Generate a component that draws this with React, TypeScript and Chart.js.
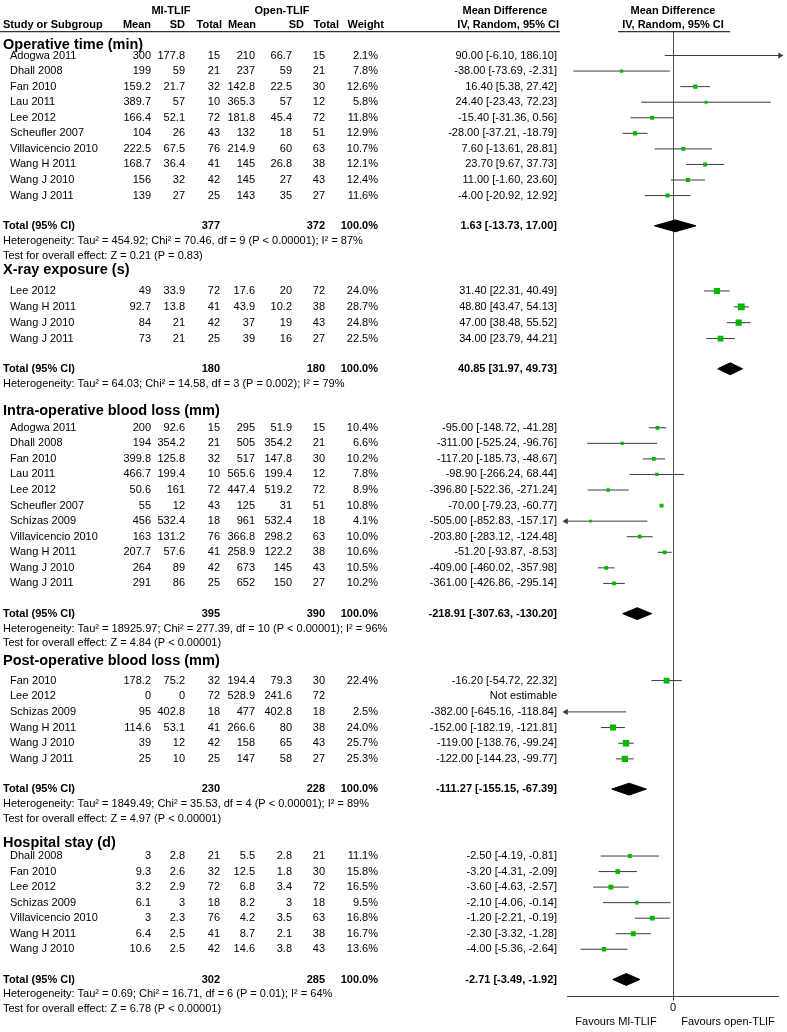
import React, { useEffect, useRef } from 'react';
import { Chart, registerables } from 'chart.js';

Chart.register(...registerables);

// ---------------- data ----------------
const subgroupNames = [
  'Operative time (min)',
  'X-ray exposure (s)',
  'Intra-operative blood loss (mm)',
  'Post-operative blood loss (mm)',
  'Hospital stay (d)',
];

// Operative time
const opStudies = ['Adogwa 2011', 'Dhall 2008', 'Fan 2010', 'Lau 2011', 'Lee 2012', 'Scheufler 2007', 'Villavicencio 2010', 'Wang H 2011', 'Wang J 2010', 'Wang J 2011'];
const opMI = [[300, 177.8, 15], [199, 59, 21], [159.2, 21.7, 32], [389.7, 57, 10], [166.4, 52.1, 72], [104, 26, 43], [222.5, 67.5, 76], [168.7, 36.4, 41], [156, 32, 42], [139, 27, 25]];
const opOpen = [[210, 66.7, 15], [237, 59, 21], [142.8, 22.5, 30], [365.3, 57, 12], [181.8, 45.4, 72], [132, 18, 51], [214.9, 60, 63], [145, 26.8, 38], [145, 27, 43], [143, 35, 27]];
const opWeight = [2.1, 7.8, 12.6, 5.8, 11.8, 12.9, 10.7, 12.1, 12.4, 11.6];
const opMD = [90, -38, 16.4, 24.4, -15.4, -28, 7.6, 23.7, 11, -4];
const opLo = [-6.1, -73.69, 5.38, -23.43, -31.36, -37.21, -13.61, 9.67, -1.6, -20.92];
const opHi = [186.1, -2.31, 27.42, 72.23, 0.56, -18.79, 28.81, 37.73, 23.6, 12.92];
const opTotal = [377, 372, 1.63, -13.73, 17.0];
const opHet = 'Heterogeneity: Tau\u00b2 = 454.92; Chi\u00b2 = 70.46, df = 9 (P < 0.00001); I\u00b2 = 87%';
const opTest = 'Test for overall effect: Z = 0.21 (P = 0.83)';

// X-ray exposure
const xrStudies = ['Lee 2012', 'Wang H 2011', 'Wang J 2010', 'Wang J 2011'];
const xrMI = [[49, 33.9, 72], [92.7, 13.8, 41], [84, 21, 42], [73, 21, 25]];
const xrOpen = [[17.6, 20, 72], [43.9, 10.2, 38], [37, 19, 43], [39, 16, 27]];
const xrWeight = [24.0, 28.7, 24.8, 22.5];
const xrMD = [31.4, 48.8, 47, 34];
const xrLo = [22.31, 43.47, 38.48, 23.79];
const xrHi = [40.49, 54.13, 55.52, 44.21];
const xrTotal = [180, 180, 40.85, 31.97, 49.73];
const xrHet = 'Heterogeneity: Tau\u00b2 = 64.03; Chi\u00b2 = 14.58, df = 3 (P = 0.002); I\u00b2 = 79%';
const xrTest = '';

// Intra-operative blood loss
const ibStudies = ['Adogwa 2011', 'Dhall 2008', 'Fan 2010', 'Lau 2011', 'Lee 2012', 'Scheufler 2007', 'Schizas 2009', 'Villavicencio 2010', 'Wang H 2011', 'Wang J 2010', 'Wang J 2011'];
const ibMI = [[200, 92.6, 15], [194, 354.2, 21], [399.8, 125.8, 32], [466.7, 199.4, 10], [50.6, 161, 72], [55, 12, 43], [456, 532.4, 18], [163, 131.2, 76], [207.7, 57.6, 41], [264, 89, 42], [291, 86, 25]];
const ibOpen = [[295, 51.9, 15], [505, 354.2, 21], [517, 147.8, 30], [565.6, 199.4, 12], [447.4, 519.2, 72], [125, 31, 51], [961, 532.4, 18], [366.8, 298.2, 63], [258.9, 122.2, 38], [673, 145, 43], [652, 150, 27]];
const ibWeight = [10.4, 6.6, 10.2, 7.8, 8.9, 10.8, 4.1, 10.0, 10.6, 10.5, 10.2];
const ibMD = [-95, -311, -117.2, -98.9, -396.8, -70, -505, -203.8, -51.2, -409, -361];
const ibLo = [-148.72, -525.24, -185.73, -266.24, -522.36, -79.23, -852.83, -283.12, -93.87, -460.02, -426.86];
const ibHi = [-41.28, -96.76, -48.67, 68.44, -271.24, -60.77, -157.17, -124.48, -8.53, -357.98, -295.14];
const ibTotal = [395, 390, -218.91, -307.63, -130.2];
const ibHet = 'Heterogeneity: Tau\u00b2 = 18925.97; Chi\u00b2 = 277.39, df = 10 (P < 0.00001); I\u00b2 = 96%';
const ibTest = 'Test for overall effect: Z = 4.84 (P < 0.00001)';

// Post-operative blood loss
const pbStudies = ['Fan 2010', 'Lee 2012', 'Schizas 2009', 'Wang H 2011', 'Wang J 2010', 'Wang J 2011'];
const pbMI = [[178.2, 75.2, 32], [0, 0, 72], [95, 402.8, 18], [114.6, 53.1, 41], [39, 12, 42], [25, 10, 25]];
const pbOpen = [[194.4, 79.3, 30], [528.9, 241.6, 72], [477, 402.8, 18], [266.6, 80, 38], [158, 65, 43], [147, 58, 27]];
const pbWeight = [22.4, null, 2.5, 24.0, 25.7, 25.3];
const pbMD = [-16.2, null, -382, -152, -119, -122];
const pbLo = [-54.72, null, -645.16, -182.19, -138.76, -144.23];
const pbHi = [22.32, null, -118.84, -121.81, -99.24, -99.77];
const pbTotal = [230, 228, -111.27, -155.15, -67.39];
const pbHet = 'Heterogeneity: Tau\u00b2 = 1849.49; Chi\u00b2 = 35.53, df = 4 (P < 0.00001); I\u00b2 = 89%';
const pbTest = 'Test for overall effect: Z = 4.97 (P < 0.00001)';

// Hospital stay
const hsStudies = ['Dhall 2008', 'Fan 2010', 'Lee 2012', 'Schizas 2009', 'Villavicencio 2010', 'Wang H 2011', 'Wang J 2010'];
const hsMI = [[3, 2.8, 21], [9.3, 2.6, 32], [3.2, 2.9, 72], [6.1, 3, 18], [3, 2.3, 76], [6.4, 2.5, 41], [10.6, 2.5, 42]];
const hsOpen = [[5.5, 2.8, 21], [12.5, 1.8, 30], [6.8, 3.4, 72], [8.2, 3, 18], [4.2, 3.5, 63], [8.7, 2.1, 38], [14.6, 3.8, 43]];
const hsWeight = [11.1, 15.8, 16.5, 9.5, 16.8, 16.7, 13.6];
const hsMD = [-2.5, -3.2, -3.6, -2.1, -1.2, -2.3, -4];
const hsLo = [-4.19, -4.31, -4.63, -4.06, -2.21, -3.32, -5.36];
const hsHi = [-0.81, -2.09, -2.57, -0.14, -0.19, -1.28, -2.64];
const hsTotal = [302, 285, -2.71, -3.49, -1.92];
const hsHet = 'Heterogeneity: Tau\u00b2 = 0.69; Chi\u00b2 = 16.71, df = 6 (P = 0.01); I\u00b2 = 64%';
const hsTest = 'Test for overall effect: Z = 6.78 (P < 0.00001)';

const xTickLabels = ['0'];
const favoursLabels = ['Favours MI-TLIF', 'Favours open-TLIF'];

// ---------------- layout / style ----------------
const W = 787;
const H = 1032;
const PLOT_LEFT = 566;
const PLOT_RIGHT = 780;
// half-range of each subgroup's own x-scale (the figure is a composite of 5 plots)
const axisHalfRange = [79, 76.5, 655, 271, 6.2];
const sectionLayout = [
  { header: 41, first: 51.5, step: 15.7 },
  { header: 268, first: 289, step: 16 },
  { header: 410, first: 427, step: 15.7 },
  { header: 662, first: 682, step: 15.8 },
  { header: 846, first: 859, step: 15.67 },
];
const TOTAL_GAP = 30.5;
const LINE_GAP = 15;
const DIAMOND_HALF = 6;
const HEADER_LINE_Y = 27.5;
const AXIS_Y = 1000;

const FONT_FAMILY = '"Liberation Sans", Arial, sans-serif';
const F_REG = `11px ${FONT_FAMILY}`;
const F_BOLD = `bold 11px ${FONT_FAMILY}`;
const F_SECTION = `bold 14.5px ${FONT_FAMILY}`;
const GREEN = '#00b800';
const CI_COLOR = '#3c3c3c';

const COL = { section: 3, name: 10, miMean: 151, miSD: 185, miN: 220, opMean: 255, opSD: 292, opN: 325, weight: 378, ci: 557 };

// ---------------- build tables ----------------
const groups = [
  { studies: opStudies, mi: opMI, open: opOpen, weight: opWeight, md: opMD, lo: opLo, hi: opHi, total: opTotal, het: opHet, test: opTest },
  { studies: xrStudies, mi: xrMI, open: xrOpen, weight: xrWeight, md: xrMD, lo: xrLo, hi: xrHi, total: xrTotal, het: xrHet, test: xrTest },
  { studies: ibStudies, mi: ibMI, open: ibOpen, weight: ibWeight, md: ibMD, lo: ibLo, hi: ibHi, total: ibTotal, het: ibHet, test: ibTest },
  { studies: pbStudies, mi: pbMI, open: pbOpen, weight: pbWeight, md: pbMD, lo: pbLo, hi: pbHi, total: pbTotal, het: pbHet, test: pbTest },
  { studies: hsStudies, mi: hsMI, open: hsOpen, weight: hsWeight, md: hsMD, lo: hsLo, hi: hsHi, total: hsTotal, het: hsHet, test: hsTest },
];

const rows = groups.map((g, gi) => {
  const L = sectionLayout[gi];
  const studyY = g.studies.map((_, i) => L.first + i * L.step);
  const totalY = studyY[studyY.length - 1] + TOTAL_GAP;
  return { headerY: L.header, studyY, totalY, hetY: totalY + LINE_GAP, testY: totalY + 2 * LINE_GAP };
});

const ciText = (m: number, l: number, h: number) => `${m.toFixed(2)} [${l.toFixed(2)}, ${h.toFixed(2)}]`;

function buildDatasets() {
  const datasets: any[] = [];
  groups.forEach((g, gi) => {
    const ax = 'x' + gi;
    const r = rows[gi];
    const h = axisHalfRange[gi];
    const ci: any[] = [];
    const sq: any[] = [];
    const radii: number[] = [];
    const arrows: any[] = [];
    const rot: number[] = [];
    g.md.forEach((m: any, i: number) => {
      if (m == null) return;
      const y = r.studyY[i];
      ci.push({ x: g.lo[i], y }, { x: g.hi[i], y }, { x: g.hi[i], y: null });
      sq.push({ x: m, y });
      radii.push((2 + 0.17 * (g.weight[i] as number)) / Math.SQRT2);
      if ((g.hi[i] as number) > h) { arrows.push({ x: h, y }); rot.push(90); }
      if ((g.lo[i] as number) < -h) { arrows.push({ x: -h, y }); rot.push(-90); }
    });
    datasets.push({
      type: 'line', xAxisID: ax, yAxisID: 'y', data: ci, borderColor: CI_COLOR, borderWidth: 1,
      pointRadius: 0, spanGaps: false, tension: 0, fill: false, order: 3,
    });
    datasets.push({
      type: 'line', xAxisID: ax, yAxisID: 'y', data: sq, showLine: false, pointStyle: 'rect',
      pointRadius: radii, pointBackgroundColor: GREEN, pointBorderColor: GREEN, pointBorderWidth: 0, order: 2,
    });
    const [, , tm, tl, th] = g.total;
    const ty = r.totalY;
    datasets.push({
      type: 'line', xAxisID: ax, yAxisID: 'y',
      data: [{ x: tl, y: ty }, { x: tm, y: ty - DIAMOND_HALF }, { x: th, y: ty }, { x: tm, y: ty + DIAMOND_HALF }, { x: tl, y: ty }],
      borderColor: '#000', backgroundColor: '#000', borderWidth: 1, pointRadius: 0, tension: 0, fill: 'shape', order: 1,
    });
    if (arrows.length) {
      datasets.push({
        type: 'line', xAxisID: ax, yAxisID: 'y', data: arrows, showLine: false, pointStyle: 'triangle',
        pointRadius: 3.5, pointRotation: rot, pointBackgroundColor: CI_COLOR, pointBorderColor: CI_COLOR,
        pointBorderWidth: 0, clip: false, order: 1,
      });
    }
  });
  return datasets;
}

function txt(ctx: CanvasRenderingContext2D, s: string, x: number, y: number, align: CanvasTextAlign, font: string) {
  ctx.font = font;
  ctx.textAlign = align;
  ctx.fillText(s, x, y);
}

const forestPlugin = {
  id: 'forestTable',
  beforeDatasetsDraw(chart: any) {
    const ctx = chart.ctx;
    const ys = chart.scales.y;
    const x0 = Math.round(chart.scales.x0.getPixelForValue(0)) + 0.5;
    ctx.save();
    ctx.strokeStyle = '#505050';
    ctx.lineWidth = 1;
    ctx.beginPath();
    ctx.moveTo(x0, ys.getPixelForValue(HEADER_LINE_Y));
    ctx.lineTo(x0, ys.getPixelForValue(AXIS_Y));
    ctx.stroke();
    ctx.restore();
  },
  afterDraw(chart: any) {
    const ctx: CanvasRenderingContext2D = chart.ctx;
    const ys = chart.scales.y;
    const Y = (v: number) => ys.getPixelForValue(v);
    const x0 = chart.scales.x0.getPixelForValue(0);
    const area = chart.chartArea;
    ctx.save();
    ctx.fillStyle = '#000';
    ctx.textBaseline = 'middle';

    // header
    txt(ctx, 'MI-TLIF', 171, Y(7), 'center', F_BOLD);
    txt(ctx, 'Open-TLIF', 282, Y(7), 'center', F_BOLD);
    txt(ctx, 'Mean Difference', 505, Y(7), 'center', F_BOLD);
    txt(ctx, 'Mean Difference', x0, Y(7), 'center', F_BOLD);
    txt(ctx, 'Study or Subgroup', COL.section, Y(21), 'left', F_BOLD);
    txt(ctx, 'Mean', COL.miMean, Y(21), 'right', F_BOLD);
    txt(ctx, 'SD', COL.miSD, Y(21), 'right', F_BOLD);
    txt(ctx, 'Total', COL.miN + 2, Y(21), 'right', F_BOLD);
    txt(ctx, 'Mean', COL.opMean + 1, Y(21), 'right', F_BOLD);
    txt(ctx, 'SD', COL.opSD + 12, Y(21), 'right', F_BOLD);
    txt(ctx, 'Total', COL.opN + 14, Y(21), 'right', F_BOLD);
    txt(ctx, 'Weight', COL.weight + 6, Y(21), 'right', F_BOLD);
    txt(ctx, 'IV, Random, 95% CI', COL.ci + 2, Y(21), 'right', F_BOLD);
    txt(ctx, 'IV, Random, 95% CI', x0, Y(21), 'center', F_BOLD);
    ctx.strokeStyle = '#000';
    ctx.lineWidth = 1;
    ctx.beginPath();
    ctx.moveTo(0, Y(HEADER_LINE_Y));
    ctx.lineTo(COL.ci + 3, Y(HEADER_LINE_Y));
    ctx.moveTo(x0 - 55, Y(HEADER_LINE_Y));
    ctx.lineTo(x0 + 57, Y(HEADER_LINE_Y));
    ctx.stroke();

    groups.forEach((g, gi) => {
      const r = rows[gi];
      txt(ctx, subgroupNames[gi], COL.section, Y(r.headerY), 'left', F_SECTION);
      g.studies.forEach((name, i) => {
        const y = Y(r.studyY[i]);
        txt(ctx, name, COL.name, y, 'left', F_REG);
        txt(ctx, String(g.mi[i][0]), COL.miMean, y, 'right', F_REG);
        txt(ctx, String(g.mi[i][1]), COL.miSD, y, 'right', F_REG);
        txt(ctx, String(g.mi[i][2]), COL.miN, y, 'right', F_REG);
        txt(ctx, String(g.open[i][0]), COL.opMean, y, 'right', F_REG);
        txt(ctx, String(g.open[i][1]), COL.opSD, y, 'right', F_REG);
        txt(ctx, String(g.open[i][2]), COL.opN, y, 'right', F_REG);
        const m = g.md[i];
        if (m == null) {
          txt(ctx, 'Not estimable', COL.ci, y, 'right', F_REG);
        } else {
          txt(ctx, (g.weight[i] as number).toFixed(1) + '%', COL.weight, y, 'right', F_REG);
          txt(ctx, ciText(m as number, g.lo[i] as number, g.hi[i] as number), COL.ci, y, 'right', F_REG);
        }
      });
      const ty = Y(r.totalY);
      txt(ctx, 'Total (95% CI)', COL.section, ty, 'left', F_BOLD);
      txt(ctx, String(g.total[0]), COL.miN, ty, 'right', F_BOLD);
      txt(ctx, String(g.total[1]), COL.opN, ty, 'right', F_BOLD);
      txt(ctx, '100.0%', COL.weight, ty, 'right', F_BOLD);
      txt(ctx, ciText(g.total[2], g.total[3], g.total[4]), COL.ci, ty, 'right', F_BOLD);
      txt(ctx, g.het, COL.section, Y(r.hetY), 'left', F_REG);
      if (g.test) txt(ctx, g.test, COL.section, Y(r.testY), 'left', F_REG);
    });

    // bottom axis
    const ay = Math.round(Y(AXIS_Y)) + 0.5;
    ctx.strokeStyle = '#404040';
    ctx.beginPath();
    ctx.moveTo(area.left + 1, ay);
    ctx.lineTo(area.right - 1, ay);
    ctx.moveTo(Math.round(x0) + 0.5, ay);
    ctx.lineTo(Math.round(x0) + 0.5, ay + 4);
    ctx.stroke();
    txt(ctx, xTickLabels[0], x0, Y(1012), 'center', F_REG);
    txt(ctx, favoursLabels[0], x0 - 57, Y(1026), 'center', F_REG);
    txt(ctx, favoursLabels[1], x0 + 55, Y(1026), 'center', F_REG);
    ctx.restore();
  },
};

export default function App() {
  const ref = useRef<HTMLCanvasElement>(null);
  useEffect(() => {
    document.body.style.margin = '0';
    const scales: any = {
      y: { type: 'linear', axis: 'y', min: 0, max: H, reverse: true, display: false },
    };
    axisHalfRange.forEach((h, i) => {
      scales['x' + i] = { type: 'linear', axis: 'x', position: 'bottom', min: -h, max: h, display: false };
    });
    const chart = new Chart(ref.current as HTMLCanvasElement, {
      type: 'line',
      data: { datasets: buildDatasets() },
      options: {
        responsive: false,
        animation: false,
        events: [],
        layout: { padding: { left: PLOT_LEFT, right: W - PLOT_RIGHT, top: 0, bottom: 0 } },
        scales,
        plugins: { legend: { display: false }, tooltip: { enabled: false } },
      } as any,
      plugins: [forestPlugin],
    } as any);
    return () => chart.destroy();
  }, []);
  return (
    <div style={{ position: 'absolute', left: 0, top: 0, width: W, height: H, background: '#fff' }}>
      <canvas ref={ref} width={W} height={H} style={{ display: 'block' }} />
    </div>
  );
}
